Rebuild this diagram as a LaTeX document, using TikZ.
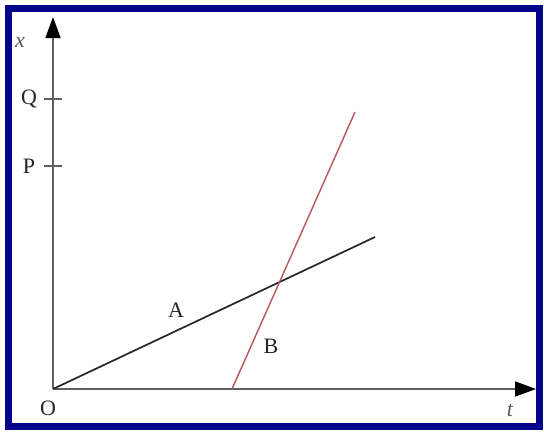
\documentclass[tikz,border=0pt]{standalone}
\usepackage{fontspec}
\setmainfont{Liberation Serif}
\usetikzlibrary{arrows.meta}
\definecolor{framecol}{RGB}{5,5,140}
\definecolor{axiscol}{RGB}{95,95,95}
\definecolor{bcol}{RGB}{185,85,95}
\begin{document}
\begin{tikzpicture}[x=1pt,y=-1pt,
  axis/.style={draw=axiscol,line width=1.8pt,-{Triangle[length=21pt,width=15pt,color=black]}},
  lbl/.style={font=\fontsize{22}{22}\selectfont,text=black!85,inner sep=0pt},
  ilbl/.style={lbl,font=\itshape\fontsize{22}{22}\selectfont,text=black!65},
  tickmark/.style={draw=axiscol,line width=1.8pt}]
\useasboundingbox (0,0) rectangle (544,432);
\fill[white] (0,0) rectangle (544,432);
\draw[framecol,line width=7pt] (8.5,8.5) rectangle (539.5,426.5);
\coordinate (O) at (53,389);
\coordinate (xtip) at (53,17);
\coordinate (ttip) at (536,389);
\draw[axis] (O) -- (xtip);
\draw[axis] (O) -- (ttip);
\coordinate (Ql) at (44,99); \coordinate (Qr) at (62,99);
\coordinate (Pl) at (44,166); \coordinate (Pr) at (62,166);
\draw[tickmark] (Ql) -- (Qr);
\draw[tickmark] (Pl) -- (Pr);
\node[ilbl] (xl) at (20,42) {x};
\node[lbl] (Q) at (29,99) {Q};
\node[lbl] (P) at (29,166) {P};
\node[lbl] (Ol) at (48,408) {O};
\node[ilbl] (tl) at (510,410) {t};
\coordinate (Aend) at (375,237);
\coordinate (Bstart) at (232,389);
\coordinate (Bend) at (355,112);
\draw[black!85,line width=1.7pt] (O) -- (Aend);
\draw[bcol,line width=1.4pt] (Bstart) -- (Bend);
\node[lbl] (A) at (176,310) {A};
\node[lbl] (B) at (271,346) {B};
\end{tikzpicture}
\end{document}
